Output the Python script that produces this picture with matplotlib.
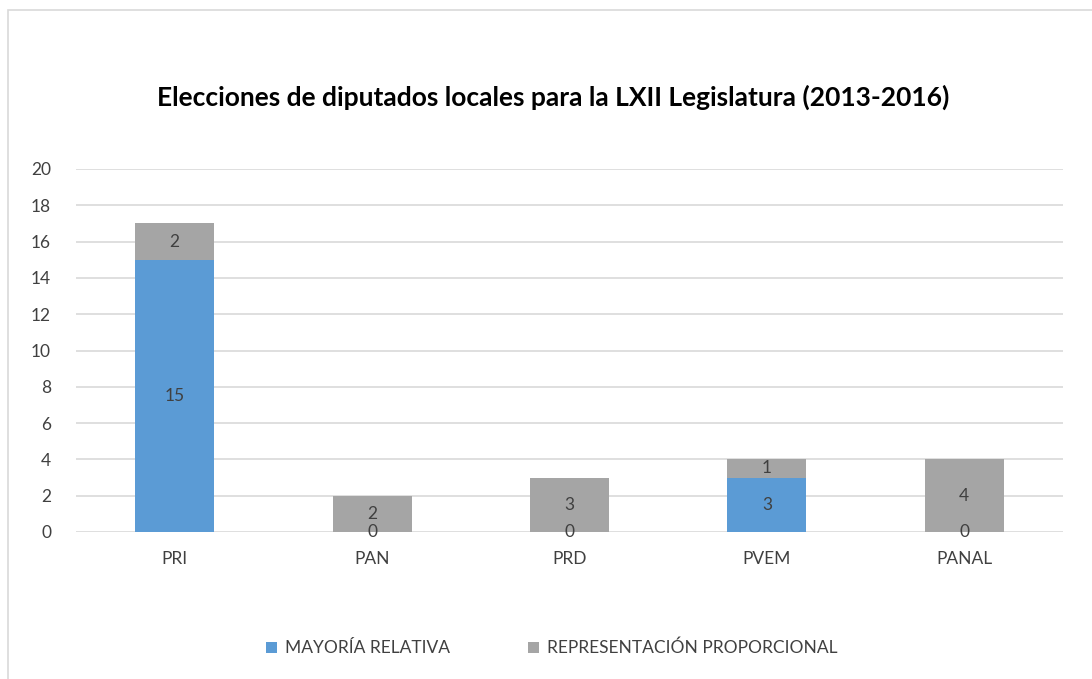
import matplotlib.pyplot as plt
from matplotlib.patches import Rectangle
import numpy as np

partidos = ["PRI", "PAN", "PRD", "PVEM", "PANAL"]
mayoria = [15, 0, 0, 3, 0]
representacion = [2, 2, 3, 1, 4]

AZUL = "#5B9BD5"
GRIS = "#A5A5A5"
TEXTO = "#404040"

plt.rcParams["font.family"] = ["Lato", "DejaVu Sans"]

fig = plt.figure(figsize=(10.92, 6.79), dpi=100)
ax = fig.add_axes([76 / 1092, 1 - 532 / 679, (1063 - 76) / 1092, (532 - 169) / 679])

# marco del grafico
fig.patches.append(Rectangle((8 / 1092, -0.1), 1.2, 1 - 10 / 679 + 0.1,
                             transform=fig.transFigure, fill=False,
                             edgecolor="#D9D9D9", linewidth=1.2))

x = np.arange(len(partidos))
b1 = ax.bar(x, mayoria, width=0.4, color=AZUL, label="MAYORÍA RELATIVA", zorder=3)
b2 = ax.bar(x, representacion, width=0.4, bottom=mayoria, color=GRIS,
            label="REPRESENTACIÓN PROPORCIONAL", zorder=3)

for i in range(len(partidos)):
    ax.text(x[i], mayoria[i] / 2, str(mayoria[i]), ha="center", va="center",
            fontsize=12.5, color=TEXTO, zorder=4)
    ax.text(x[i], mayoria[i] + representacion[i] / 2, str(representacion[i]),
            ha="center", va="center", fontsize=12.5, color=TEXTO, zorder=4)

ax.set_xlim(-0.5, len(partidos) - 0.5)
ax.set_ylim(0, 20)
ax.set_yticks(range(0, 21, 2))
ax.set_xticks(x)
ax.set_xticklabels(partidos)
ax.grid(axis="y", color="#D9D9D9", linewidth=1.2, zorder=0)
for s in ax.spines.values():
    s.set_visible(False)
ax.tick_params(length=0, labelsize=12.5, labelcolor=TEXTO)
ax.tick_params(axis="y", pad=18)
ax.tick_params(axis="x", pad=14)

fig.text(553 / 1092, 1 - 97 / 679, "Elecciones de diputados locales para la LXII Legislatura (2013-2016)",
         ha="center", va="center", fontsize=19, fontweight="bold", color="black")

fig.legend(loc="center", bbox_to_anchor=(552 / 1092, 1 - 648 / 679), ncol=2, frameon=False,
           fontsize=12.5, handlelength=0.6, handleheight=0.6, columnspacing=4.5,
           handletextpad=0.5, labelcolor=TEXTO)

fig.savefig("out.png", dpi=100)
